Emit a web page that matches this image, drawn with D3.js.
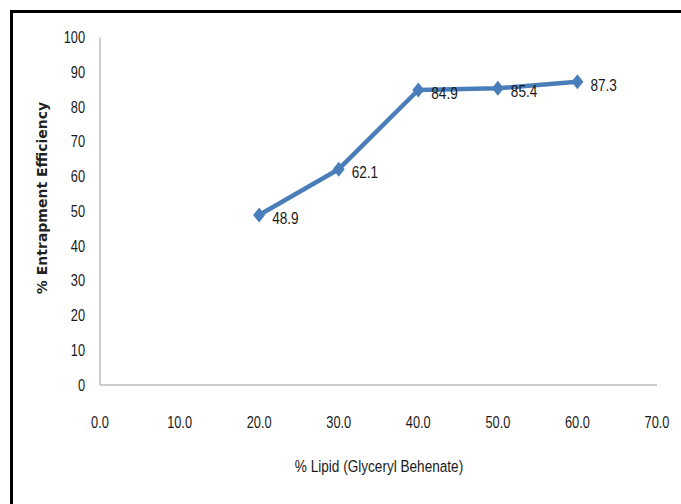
<!DOCTYPE html>
<html>
<head>
<meta charset="utf-8">
<script src="https://cdn.jsdelivr.net/npm/d3@7"></script>
<style>
  html, body { margin: 0; padding: 0; background: #fff; }
  svg { display: block; }
  .lbl { font-family: "Liberation Sans", Arial, sans-serif; font-size: 16px; font-weight: normal; fill: #1a1a1a; }
</style>
</head>
<body>
<svg id="chart" width="681" height="504"></svg>
<script>
// Entrapment efficiency vs lipid content
const lipidPct = [20, 30, 40, 50, 60];
const efficiency = [48.9, 62.1, 84.9, 85.4, 87.3];
const xTicks = [0, 10, 20, 30, 40, 50, 60, 70];
const yTicks = [0, 10, 20, 30, 40, 50, 60, 70, 80, 90, 100];

const svg = d3.select("#chart");
const W = 681, H = 504;
const narrow = 0.8; // horizontal squeeze for the condensed label face

// outer frame (top and left edges visible)
svg.append("rect").attr("x", 0).attr("y", 0).attr("width", W).attr("height", H).attr("fill", "#fff");
svg.append("path")
  .attr("d", `M11.5,${H} V11.5 H${W}`)
  .attr("fill", "none").attr("stroke", "#000").attr("stroke-width", 3);

const x = d3.scaleLinear().domain([0, 70]).range([100, 657]);
const y = d3.scaleLinear().domain([0, 100]).range([385, 37.5]);

// axis lines
const axisColor = "#bdbdbd";
svg.append("line").attr("x1", x(0)).attr("x2", x(0)).attr("y1", y(100)).attr("y2", y(0))
  .attr("stroke", axisColor).attr("stroke-width", 1.5);
svg.append("line").attr("x1", x(0)).attr("x2", x(70)).attr("y1", y(0)).attr("y2", y(0))
  .attr("stroke", axisColor).attr("stroke-width", 1.5);

// text helper: place at (px,py) then squeeze horizontally
function label(g, px, py, anchor) {
  return g.append("text")
    .attr("class", "lbl")
    .attr("transform", `translate(${px},${py}) scale(${narrow},1)`)
    .attr("dy", "0.35em")
    .attr("text-anchor", anchor);
}

// y tick labels
const gy = svg.append("g");
yTicks.forEach(d => label(gy, 85, y(d), "end").text(d));

// x tick labels
const gx = svg.append("g");
xTicks.forEach(d => label(gx, x(d), 422, "middle").text(d.toFixed(1)));

// axis titles
svg.append("text")
  .attr("transform", `translate(47,198) rotate(-90)`)
  .attr("text-anchor", "middle")
  .attr("font-family", "'DejaVu Sans', 'Open Sans', sans-serif")
  .attr("font-weight", "bold").attr("font-size", 14).attr("fill", "#222")
  .text("% Entrapment Efficiency");

label(svg, 379, 466, "middle").style("font-size", "17px").text("% Lipid (Glyceryl Behenate)");

const pts = lipidPct.map((v, i) => ({ x: v, y: efficiency[i] }));
const blue = "#4a7ebb";

svg.append("path")
  .datum(pts)
  .attr("fill", "none")
  .attr("stroke", blue)
  .attr("stroke-width", 4.5)
  .attr("stroke-linejoin", "round")
  .attr("d", d3.line().x(d => x(d.x)).y(d => y(d.y)));

svg.append("g").selectAll("path").data(pts).join("path")
  .attr("transform", d => `translate(${x(d.x)},${y(d.y)})`)
  .attr("d", "M0,-7.5 L6,0 L0,7.5 L-6,0 Z")
  .attr("fill", blue);

const gl = svg.append("g");
pts.forEach(d => label(gl, x(d.x) + 13, y(d.y) + 3, "start").style("font-size", "17px").text(d.y.toFixed(1)));
</script>
</body>
</html>
